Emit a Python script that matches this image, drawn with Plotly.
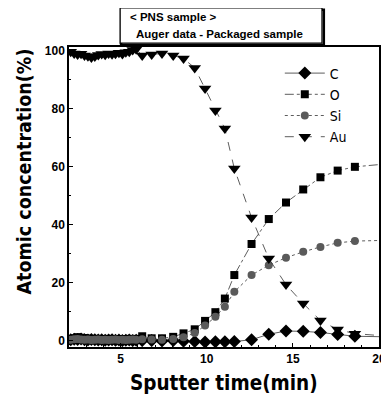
import plotly.graph_objects as go

# Sputter time (min)
time = [2.1, 2.3, 2.5, 2.7, 2.9, 3.1, 3.3, 3.5, 3.7, 3.9, 4.1, 4.3, 4.5, 4.7, 4.9,
        5.1, 5.3, 5.5, 5.7, 5.9,
        6.25, 6.8, 7.4, 8.05, 8.65, 9.3, 9.9, 10.5, 11.05, 11.6,
        12.6, 13.6, 14.6, 15.6, 16.6, 17.6, 18.6, 20.6]

c_vals = [0.3, 0.5, 0.4, 0.6, 0.3, 0.2, 0.4, 0.3, 0.2, 0.3, 0.1, 0.2, 0.3, 0.1, 0.2,
          0.0, 0.1, 0.2, 0.0, 0.1,
          0.0, 0.0, -0.1, 0.0, -0.2, -0.3, -0.5, -0.4, -0.4, -0.3,
          0.3, 2.2, 3.3, 3.2, 2.8, 2.1, 1.5, 1.3]

o_vals = [0.5, 0.8, 1.2, 1.0, 0.9, 0.7, 0.6, 0.5, 0.6, 0.4, 0.5, 0.6, 0.4, 0.5, 0.3,
          0.5, 0.4, 0.6, 0.5, 0.6,
          1.5, 0.8, 0.8, 1.3, 2.5, 3.9, 6.8, 9.8, 14.5, 22.6,
          33.3, 41.9, 47.6, 52.1, 56.3, 58.6, 59.9, 61.0]

si_vals = [0.3, 0.5, 0.6, 0.4, 0.3, 0.4, 0.2, 0.3, 0.4, 0.2, 0.3, 0.2, 0.3, 0.4, 0.2,
           0.3, 0.2, 0.3, 0.4, 0.3,
           0.5, 0.4, 0.3, 0.6, 1.2, 2.6, 5.2, 8.2, 11.7, 16.8,
           22.6, 26.0, 28.6, 30.6, 32.3, 33.7, 34.3, 34.6]

au_vals = [99.6, 99.0, 98.6, 98.9, 98.3, 98.0, 97.6, 97.9, 98.4, 98.8, 98.5, 99.0, 98.7, 98.9, 99.2,
           98.8, 99.4, 99.6, 100.2, 100.4,
           98.3, 98.6, 99.0, 98.3, 97.2, 94.0, 86.9, 79.3, 73.1, 59.3,
           42.4, 28.3, 19.3, 12.8, 6.9, 3.8, 2.4, 1.5]

series = [
    ("C", c_vals, "diamond", 10, "black", "solid"),
    ("O", o_vals, "square", 8, "black", "dashdot"),
    ("Si", si_vals, "circle", 8, "#5a5a5a", "dot"),
    ("Au", au_vals, "triangle-down", 11, "black", "dash"),
]

fig = go.Figure()
for name, vals, sym, size, col, dash in series:
    fig.add_trace(go.Scatter(
        x=time, y=vals, name=name, mode="lines+markers",
        line=dict(color="#333333", width=0.8, dash=dash),
        marker=dict(symbol=sym, size=size, color=col, line=dict(width=0)),
        cliponaxis=True,
    ))

font_fam = "Liberation Sans, Arial, sans-serif"
narrow = "Liberation Sans Narrow, Arial Narrow, DejaVu Sans Condensed, sans-serif"
axis_common = dict(
    showline=True, linecolor="black", linewidth=1.5, mirror=True,
    ticks="inside", ticklen=4, tickwidth=1, tickcolor="black",
    showgrid=False, zeroline=False, automargin=False,
    tickfont=dict(family=font_fam, size=12, color="black", weight="bold"),
)

# page body has an 8px default margin, so the figure is sized to fit the window
fig.update_layout(
    width=381, height=392, autosize=False,
    margin=dict(l=61, r=10, t=39, b=53),
    paper_bgcolor="white", plot_bgcolor="white",
    font=dict(family=font_fam, color="black"),
    showlegend=True,
    legend=dict(
        x=0.68, y=0.965, xanchor="left", yanchor="top",
        bgcolor="rgba(0,0,0,0)", borderwidth=0,
        font=dict(family=narrow, size=14, color="black"),
        itemwidth=40, tracegroupgap=0,
    ),
    xaxis=dict(
        range=[2.0, 20.0], dtick=5, tick0=0,
        minor=dict(ticks="inside", ticklen=2, dtick=1, tickcolor="black"),
        **axis_common,
    ),
    yaxis=dict(
        range=[-2.2, 101.2], dtick=20, tick0=0,
        minor=dict(ticks="inside", ticklen=2, dtick=10, tickcolor="black"),
        **axis_common,
    ),
)

# Axis titles as annotations
fig.add_annotation(xref="paper", yref="paper", x=0.5, y=-0.12,
                   xanchor="center", yanchor="middle", showarrow=False,
                   text="<b>Sputter time(min)</b>",
                   font=dict(family=narrow, size=20.5, color="black"))
fig.add_annotation(xref="paper", yref="paper", x=-0.145, y=0.585,
                   xanchor="center", yanchor="middle", showarrow=False, textangle=-90,
                   text="<b>Atomic concentration(%)</b>",
                   font=dict(family=narrow, size=19.5, color="black"))

# Header box
fig.add_shape(type="rect", xref="paper", yref="paper",
              x0=0.168, x1=0.822, y0=1.007, y1=1.124,
              line=dict(color="black", width=2.5), fillcolor="white", layer="above")
fig.add_shape(type="rect", xref="paper", yref="paper",
              x0=0.165, x1=0.816, y0=1.013, y1=1.13,
              line=dict(color="black", width=1.2), fillcolor="white", layer="above")
fig.add_annotation(xref="paper", yref="paper", x=0.19, y=1.10,
                   xanchor="left", yanchor="middle", showarrow=False,
                   text="<b>&lt; PNS sample &gt;</b>",
                   font=dict(family=font_fam, size=11.5, color="black"))
fig.add_annotation(xref="paper", yref="paper", x=0.21, y=1.045,
                   xanchor="left", yanchor="middle", showarrow=False,
                   text="<b>Auger data - Packaged sample</b>",
                   font=dict(family=font_fam, size=11.5, color="black"))

fig.write_html("out.html")
